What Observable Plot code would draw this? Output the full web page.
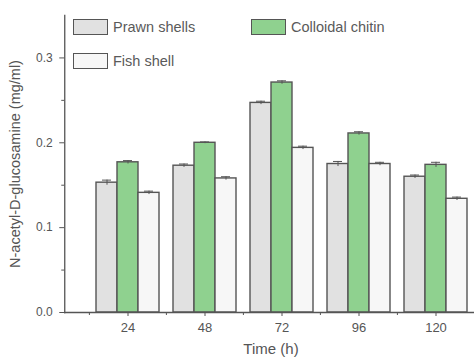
<!DOCTYPE html>
<html>
<head>
<meta charset="utf-8">
<script src="https://cdn.jsdelivr.net/npm/d3@7"></script>
<script src="https://cdn.jsdelivr.net/npm/@observablehq/plot@0.6"></script>
<style>
  html, body { margin: 0; padding: 0; background: #fff; overflow: hidden; }
  #wrap { position: relative; width: 474px; height: 358px; font-family: "Liberation Sans", Arial, sans-serif; }
  #legend { position: absolute; left: 0; top: 0; width: 474px; height: 80px; pointer-events: none; }
  .item { position: absolute; display: flex; align-items: center; font-size: 14.5px; color: #5a5a5a; }
  .sw { width: 33px; height: 14px; border: 1.5px solid #555; margin-right: 5px; box-sizing: content-box; }
</style>
</head>
<body>
<div id="wrap">
  <div id="chart"></div>
  <div id="legend"></div>
</div>
<script>
const times = ["24", "48", "72", "96", "120"];
const series = ["Prawn shells", "Colloidal chitin", "Fish shell"];
const prawn = [0.153, 0.173, 0.247, 0.175, 0.160];
const chitin = [0.177, 0.200, 0.271, 0.211, 0.174];
const fish = [0.141, 0.158, 0.194, 0.175, 0.134];
const prawnErr = [0.003, 0.002, 0.002, 0.003, 0.002];
const chitinErr = [0.002, 0.001, 0.002, 0.002, 0.003];
const fishErr = [0.002, 0.002, 0.002, 0.002, 0.002];
const yTicks = [0, 0.1, 0.2, 0.3];
const yMinor = [0.05, 0.15, 0.25];
const yLabel = "N-acetyl-D-glucosamine (mg/ml)";
const xLabel = "Time (h)";
const colors = ["#e1e1e1", "#8fd18f", "#f7f7f7"];

const values = [prawn, chitin, fish];
const errors = [prawnErr, chitinErr, fishErr];
const rows = [];
times.forEach((t, i) => series.forEach((s, k) => rows.push({time: t, series: s, value: values[k][i], err: errors[k][i]})));

const ink = "#555";
const axisShift = -24.75;
const chart = Plot.plot({
  width: 474,
  height: 358,
  marginLeft: 63,
  marginRight: 0,
  marginTop: 15,
  marginBottom: 46,
  style: {fontFamily: "Liberation Sans, Arial, sans-serif", fontSize: "12px", color: ink, background: "#fff"},
  fx: {domain: times, paddingInner: 0, paddingOuter: 0.16, align: 1, label: null, axis: null},
  x: {domain: series, paddingInner: 0, paddingOuter: 0.3, axis: null},
  y: {domain: [0, 0.35], axis: null},
  color: {domain: series, range: colors},
  marks: [
    Plot.barY(rows, {fx: "time", x: "series", y: "value", fill: "series", stroke: ink, strokeWidth: 1.4}),
    Plot.ruleX(rows, {fx: "time", x: "series", y1: d => d.value - d.err, y2: d => d.value + d.err, stroke: ink, strokeWidth: 1}),
    Plot.tickY(rows, {fx: "time", x: "series", y: d => d.value + d.err, stroke: ink, strokeWidth: 1, insetLeft: 6, insetRight: 6}),
    Plot.frame({facet: "super", anchor: "bottom", insetLeft: axisShift, stroke: ink, strokeWidth: 1.5}),
    Plot.frame({facet: "super", anchor: "left", dx: axisShift, stroke: ink, strokeWidth: 1.3}),
    Plot.axisY({ticks: yTicks, tickFormat: d3.format(".1f"), tickSize: 5, tickPadding: 7, label: null, fontSize: 12, dx: axisShift, stroke: ink}),
    Plot.axisY({ticks: yMinor, tickFormat: () => "", tickSize: 3, label: null, dx: axisShift, stroke: ink}),
    Plot.axisY({ticks: [], label: yLabel, labelAnchor: "center", labelArrow: "none", labelOffset: 80, fontSize: 14.5, dx: axisShift}),
    Plot.axisFx({anchor: "bottom", tickSize: 4, tickPadding: 6, label: null, fontSize: 13, stroke: ink}),
    Plot.axisFx({anchor: "bottom", tickSize: 3, tickFormat: () => "", label: null, dx: -38.6, stroke: ink}),
    Plot.text([xLabel], {facet: "super", frameAnchor: "bottom", dx: -11, dy: 41, fontSize: 15, fill: ink})
  ]
});
document.getElementById("chart").appendChild(chart);

const legendPos = [[73, 19], [251, 19], [73, 53]];
const legend = document.getElementById("legend");
series.forEach((s, k) => {
  const item = document.createElement("div");
  item.className = "item";
  item.style.left = legendPos[k][0] + "px";
  item.style.top = legendPos[k][1] + "px";
  const sw = document.createElement("div");
  sw.className = "sw";
  sw.style.background = colors[k];
  item.appendChild(sw);
  const label = document.createElement("span");
  label.textContent = s;
  item.appendChild(label);
  legend.appendChild(item);
});
</script>
</body>
</html>
